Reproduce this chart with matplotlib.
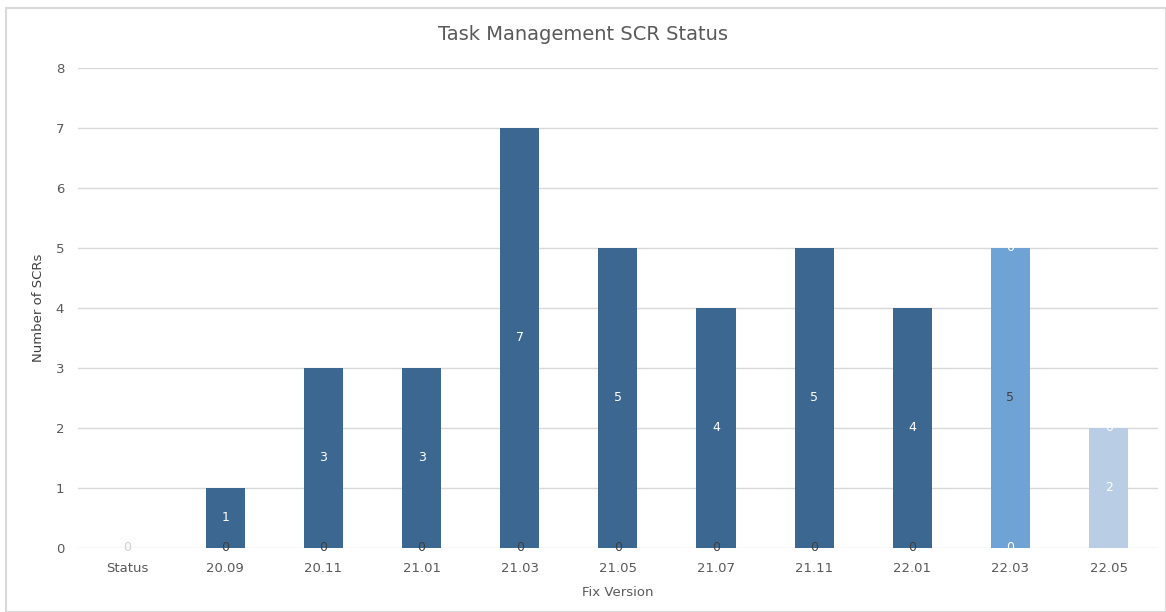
import matplotlib.pyplot as plt
from matplotlib.patches import Rectangle
import numpy as np

versions = ['Status', '20.09', '20.11', '21.01', '21.03', '21.05', '21.07', '21.11', '22.01', '22.03', '22.05']
closed = [0, 1, 3, 3, 7, 5, 4, 5, 4, 0, 0]
resolved = [0, 0, 0, 0, 0, 0, 0, 0, 0, 5, 0]
opened = [0, 0, 0, 0, 0, 0, 0, 0, 0, 0, 2]
rejected = [0, 0, 0, 0, 0, 0, 0, 0, 0, 0, 0]

dark = '#3b6790'
mid = '#6fa3d6'
light = '#b9cde5'
gray = '#595959'

fig = plt.figure(figsize=(11.66, 6.12), dpi=100)
fig.patches.append(Rectangle((0.005, 0.0), 0.995, 0.987, transform=fig.transFigure,
                             fill=False, edgecolor='#d9d9d9', linewidth=1.5))
ax = fig.add_axes([0.0669, 0.1046, 0.926, 0.7843])

x = np.arange(len(versions))
w = 0.4
c = np.array(closed)
r = np.array(resolved)
o = np.array(opened)
ax.bar(x, c, w, color=dark, zorder=2)
ax.bar(x, r, w, bottom=c, color=mid, zorder=2)
ax.bar(x, o, w, bottom=c + r, color=light, zorder=2)

for i in x:
    total = c[i] + r[i] + o[i]
    # zero labels sitting on the baseline
    if c[i] > 0:
        ax.text(i, 0, '0', ha='center', va='center', color='#404040', fontsize=9, zorder=3)
        ax.text(i, c[i] / 2, str(c[i]), ha='center', va='center', color='white', fontsize=9, zorder=3)
    elif r[i] > 0:
        ax.text(i, 0, '0', ha='center', va='center', color='white', fontsize=9, zorder=3)
    elif total == 0:
        ax.text(i, 0, '0', ha='center', va='center', color='#d0d0d0', fontsize=9, zorder=3)
    if r[i] > 0:
        ax.text(i, c[i] + r[i] / 2, str(r[i]), ha='center', va='center', color='#404040', fontsize=9, zorder=3)
    if o[i] > 0:
        ax.text(i, c[i] + r[i] + o[i] / 2, str(o[i]), ha='center', va='center', color='white', fontsize=9, zorder=3)
    if r[i] > 0 or o[i] > 0:
        ax.text(i, total + rejected[i], str(rejected[i]), ha='center', va='center', color='white', fontsize=9, zorder=3)

ax.set_xlim(-0.5, len(versions) - 0.5)
ax.set_ylim(0, 8)
ax.set_yticks(range(0, 9))
ax.set_xticks(x)
ax.set_xticklabels(versions)
ax.grid(axis='y', color='#d9d9d9', linewidth=1, zorder=0)
for s in ax.spines.values():
    s.set_visible(False)
ax.tick_params(axis='both', length=0, colors=gray, labelsize=9.5)
ax.tick_params(axis='y', pad=10)
ax.tick_params(axis='x', pad=10)
ax.set_xlabel('Fix Version', color=gray, fontsize=9.5, labelpad=8)
ax.set_ylabel('Number of SCRs', color='#404040', fontsize=9.5, labelpad=8)
fig.text(0.5, 0.943, 'Task Management SCR Status', ha='center', va='center', color=gray, fontsize=14)

fig.savefig('out.png', dpi=100)
